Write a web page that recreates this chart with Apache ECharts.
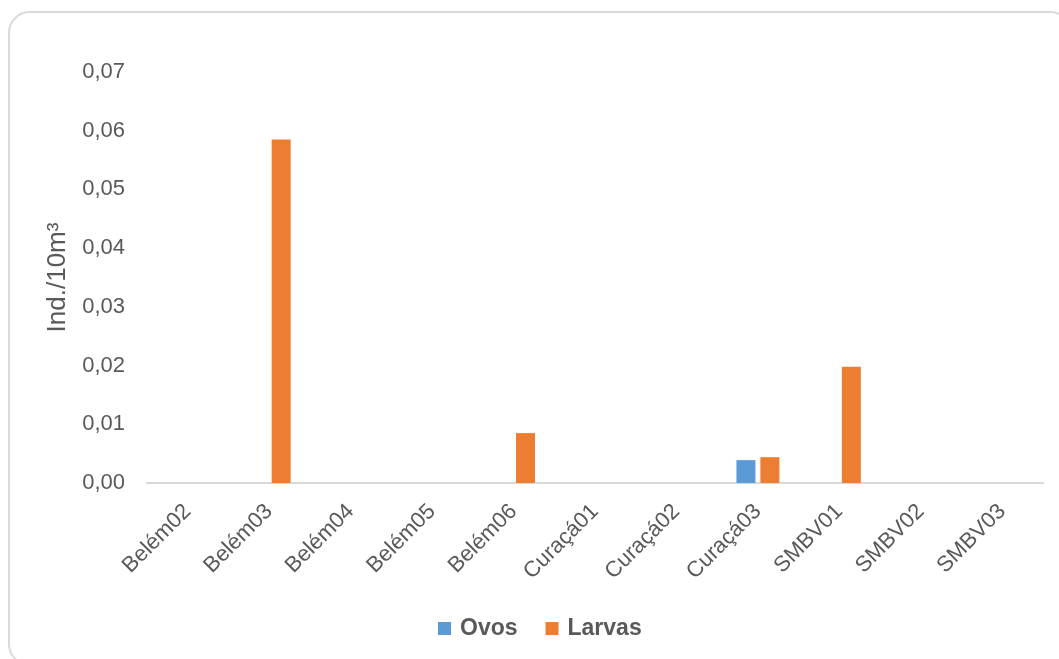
<!DOCTYPE html>
<html>
<head>
<meta charset="utf-8">
<script src="https://cdn.jsdelivr.net/npm/echarts@6/dist/echarts.min.js"></script>
<style>
  html, body { margin: 0; padding: 0; background: #fff; overflow: hidden; }
  #frame {
    position: absolute; left: 8px; top: 11px; width: 1064px; height: 655px;
    border: 2px solid #d9d9d9; border-radius: 22px; box-sizing: border-box;
  }
  #chart { position: absolute; left: 0; top: 0; width: 1059px; height: 659px; }
</style>
</head>
<body>
<div id="frame"></div>
<div id="chart"></div>
<script>
// Sampling stations
const stations = ['Belém02', 'Belém03', 'Belém04', 'Belém05', 'Belém06',
  'Curaçá01', 'Curaçá02', 'Curaçá03', 'SMBV01', 'SMBV02', 'SMBV03'];
// Ind./10m³
const ovos = [0, 0, 0, 0, 0, 0, 0, 0.0039, 0, 0, 0];
const larvas = [0, 0.0585, 0, 0, 0.0085, 0, 0, 0.0044, 0.0198, 0, 0];

const chart = echarts.init(document.getElementById('chart'));
chart.setOption({
  animation: false,
  grid: { left: 147, right: 16, top: 72, bottom: 176 },
  legend: {
    bottom: 14,
    left: 433,
    itemWidth: 13,
    itemHeight: 13,
    itemGap: 28,
    icon: 'rect',
    textStyle: { fontFamily: 'Liberation Sans', fontSize: 23, fontWeight: 'bold', color: '#595959', padding: [0, 0, 0, 4] },
    data: ['Ovos', 'Larvas']
  },
  xAxis: {
    type: 'category',
    data: stations,
    axisLine: { lineStyle: { color: '#d9d9d9', width: 2 } },
    axisTick: { show: false },
    axisLabel: {
      rotate: 45,
      interval: 0,
      margin: 25,
      fontFamily: 'Liberation Sans',
      fontSize: 22,
      color: '#595959'
    }
  },
  yAxis: {
    type: 'value',
    min: 0,
    max: 0.07,
    interval: 0.01,
    name: 'Ind./10m³',
    nameLocation: 'middle',
    nameGap: 76,
    nameRotate: 90,
    nameTextStyle: { fontFamily: 'Liberation Sans', fontSize: 26, color: '#595959' },
    axisLine: { show: false },
    axisTick: { show: false },
    splitLine: { show: false },
    axisLabel: {
      margin: 22,
      fontFamily: 'Liberation Sans',
      fontSize: 22,
      color: '#595959',
      formatter: v => v.toFixed(2).replace('.', ',')
    }
  },
  series: [
    {
      name: 'Ovos',
      type: 'bar',
      data: ovos,
      barWidth: 19,
      barGap: '26%',
      itemStyle: { color: '#5b9bd5' }
    },
    {
      name: 'Larvas',
      type: 'bar',
      data: larvas,
      barWidth: 19,
      barGap: '26%',
      itemStyle: { color: '#ed7d31' }
    }
  ]
});
</script>
</body>
</html>
